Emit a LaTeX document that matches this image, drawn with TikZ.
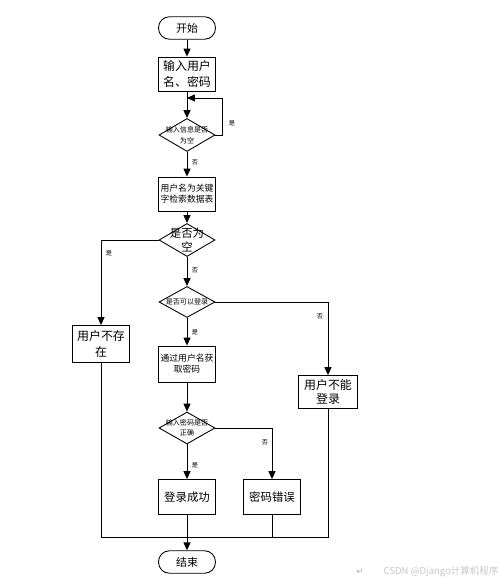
\documentclass[tikz,border=0pt]{standalone}
\usepackage{fontspec}
\setmainfont{Noto Sans CJK SC}
\newfontfamily\symfont{DejaVu Sans}
\usetikzlibrary{arrows.meta,shapes.geometric}
\begin{document}
\begin{tikzpicture}[x=0.02cm,y=-0.02cm,line width=0.5pt,
  arr/.style={-{Triangle[width=4pt,length=4.5pt]}},
  term/.style={draw,rounded corners=0.22cm,minimum width=1.14cm,minimum height=0.45cm,inner sep=0pt,font=\fontsize{6.2}{8}\selectfont},
  proc/.style={draw,minimum width=1.14cm,minimum height=0.68cm,inner sep=0pt,align=center,font=\fontsize{6.8}{9}\selectfont},
  decide/.style={draw,diamond,minimum width=1.12cm,minimum height=0.66cm,inner sep=0pt},
  dtext/.style={align=center,font=\fontsize{4}{6}\selectfont},
  yn/.style={font=\fontsize{3.5}{4}\selectfont}]
	\useasboundingbox (0,0) rectangle (500,577);
	\node[term] (start) at (187,28) {开始};
	\node[proc] (input) at (187,74) {输入用户\\名、密码};
	\node[decide,label={[dtext]center:输入信息是否\\为空}] (empty1) at (187,135) {};
	\node[proc,font=\fontsize{5}{6.3}\selectfont] (search) at (187,194) {用户名为关键\\字检索数据表};
	\node[decide,label={[dtext,font=\fontsize{6.5}{8.5}\selectfont]center:是否为\\空}] (empty2) at (187,240) {};
	\node[proc,minimum height=0.74cm] (nouser) at (101,344) {用户不存\\在};
	\node[decide,minimum height=0.62cm,label={[dtext]center:是否可以登录}] (canlog) at (187,302) {};
	\node[proc,minimum height=0.72cm,font=\fontsize{5}{6.3}\selectfont] (getpw) at (187,364) {通过用户名获\\取密码};
	\node[proc,minimum width=1.18cm,minimum height=0.66cm,font=\fontsize{6.8}{7.5}\selectfont] (noperm) at (328,392) {用户不能\\登录};
	\node[decide,minimum height=0.64cm,label={[dtext]center:输入密码是否\\正确}] (pwok) at (187,428) {};
	\node[proc,minimum height=0.7cm,font=\fontsize{6.5}{8}\selectfont] (okay) at (187,497) {登录成功};
	\node[proc,minimum height=0.7cm,font=\fontsize{6.5}{8}\selectfont] (wrong) at (272,497) {密码错误};
	\node[term] (finish) at (187,562) {结束};
% connectors
	\coordinate (back) at (187,98);
	\coordinate (join) at (187,537);
	\draw[arr] (start) -- (input);
	\draw[arr] (input) -- (empty1);
	\draw[arr] (empty1.east) -- ++(7,0) |- (back);
	\draw[arr] (empty1) -- (search);
	\draw[arr] (search) -- (empty2);
	\draw[arr] (empty2.west) -| (nouser);
	\draw[arr] (empty2) -- (canlog);
	\draw[arr] (canlog.east) -| (noperm);
	\draw[arr] (canlog) -- (getpw);
	\draw[arr] (getpw) -- (pwok);
	\draw[arr] (pwok) -- (okay);
	\draw[arr] (pwok.east) -| (wrong);
	\draw (nouser.south) |- (join);
	\draw (noperm.south) |- (join);
	\draw (wrong.south) -- (wrong.south |- join);
	\draw[arr] (okay) -- (finish);
% yes / no
	\node[yn] (yes1) at (232,123) {是};
	\node[yn] (no1) at (195,162) {否};
	\node[yn] (yes2) at (109,253) {是};
	\node[yn] (no2) at (195,270) {否};
	\node[yn] (no3) at (320,316) {否};
	\node[yn] (yes3) at (195,332) {是};
	\node[yn] (no4) at (265,442) {否};
	\node[yn] (yes4) at (195,465) {是};
% watermark
	\node[text=gray!60,font=\symfont\fontsize{5}{6}\selectfont] (ret) at (360,572) {↵};
	\node[text=gray!45,font=\fontsize{5.4}{6}\selectfont] (mark) at (441,572) {CSDN @Django计算机程序};
\end{tikzpicture}
\end{document}
